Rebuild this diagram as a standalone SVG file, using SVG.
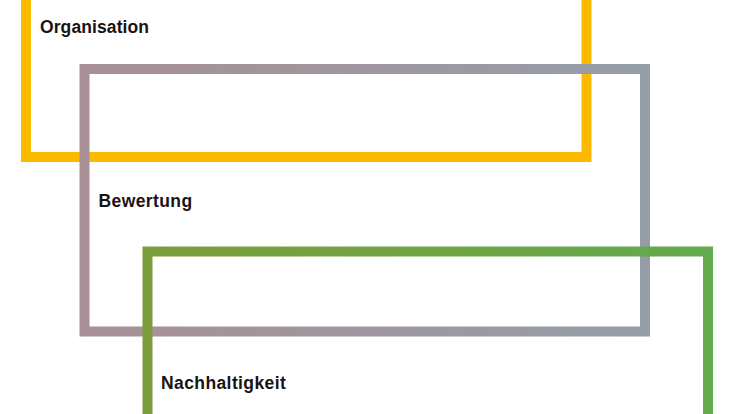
<svg xmlns="http://www.w3.org/2000/svg" width="733" height="414" viewBox="0 0 733 414">
  <style>
    .frame { fill: none; stroke-width: 10; }
    .label { font-family: "Liberation Sans", Arial, sans-serif; font-weight: bold; font-size: 17.5px; letter-spacing: 0.4px; fill: #1a1214; }
  </style>
  <defs>
    <linearGradient id="gGray" x1="0" y1="0" x2="1" y2="0">
      <stop offset="0" stop-color="#a89096"/>
      <stop offset="1" stop-color="#959ea8"/>
    </linearGradient>
    <linearGradient id="gGreen" x1="0" y1="0" x2="1" y2="0">
      <stop offset="0" stop-color="#7b9d3b"/>
      <stop offset="1" stop-color="#64aa4e"/>
    </linearGradient>
  </defs>
  <rect width="733" height="414" fill="#ffffff"/>
  <g id="organisation">
    <rect class="frame" x="26" y="-30" width="560.5" height="187" stroke="#fbb900"/>
    <text class="label" x="40" y="32.5" style="letter-spacing:0.1px">Organisation</text>
  </g>
  <g id="bewertung">
    <rect class="frame" x="84.5" y="69" width="560.5" height="262.5" stroke="url(#gGray)"/>
    <text class="label" x="98.5" y="207">Bewertung</text>
  </g>
  <g id="nachhaltigkeit">
    <rect class="frame" x="147.5" y="251.5" width="560.5" height="200" stroke="url(#gGreen)"/>
    <text class="label" x="161" y="388.5">Nachhaltigkeit</text>
  </g>
  <g id="connectors"/>
</svg>
